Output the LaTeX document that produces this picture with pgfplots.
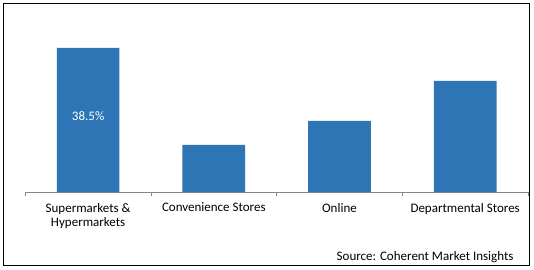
\documentclass[border=0pt]{standalone}
\usepackage{fontspec}
\setmainfont{Carlito}
\usepackage{pgfplots}
\pgfplotsset{compat=1.18}
\definecolor{barblue}{RGB}{46,117,182}
\definecolor{axisgray}{RGB}{134,134,134}
\begin{document}
\fontsize{13}{14.5}\selectfont
\begin{tikzpicture}[x=1pt,y=1pt]
\useasboundingbox (0,0) rectangle (534,269);
\draw[black, line width=1pt] (3,4) rectangle (529,266);
\begin{axis}[
  at={(25.3pt,77pt)}, anchor=south west,
  scale only axis, width=502.7pt, height=170pt,
  xmin=-0.5, xmax=3.5, ymin=0, ymax=45.45,
  axis x line*=bottom, axis y line=none,
  x axis line style={axisgray, line width=1pt, -},
  xtick={0,1,2,3},
  xticklabels={{Supermarkets \&\\Hypermarkets}, Convenience Stores, Online, Departmental Stores},
  major tick length=0pt,
  minor xtick={-0.5,0.5,1.5,2.5,3.5},
  minor tick length=4pt,
  tick align=outside,
  minor tick style={axisgray, line width=0.8pt},
  xticklabel style={align=center, text=black, font=\fontsize{13}{14.5}\selectfont, yshift=-6.5pt},
  ybar, bar width=62.7pt,
  clip=false,
]
\addplot[fill=barblue, draw=none] coordinates {(0,38.5) (1,12.6) (2,19.0) (3,29.7)};
\node[text=white, font=\fontsize{13}{14.5}\selectfont] at (axis cs:0,20.3) {38.5\%};
\end{axis}
\node[anchor=base east, text=black] at (518,8.5) {Source: Coherent Market Insights};
\end{tikzpicture}
\end{document}
